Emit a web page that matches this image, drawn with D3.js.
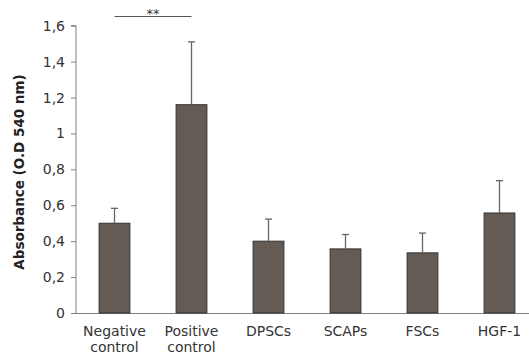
<!DOCTYPE html>
<html>
<head>
<meta charset="utf-8">
<script src="https://cdn.jsdelivr.net/npm/d3@7"></script>
<style>
  html, body { margin: 0; padding: 0; background: #fff; }
  svg { display: block; }
</style>
</head>
<body>
<svg id="chart" width="529" height="356"></svg>
<script>
// Absorbance per group (mean and upper error)
const categories = [["Negative", "control"], ["Positive", "control"], ["DPSCs"], ["SCAPs"], ["FSCs"], ["HGF-1"]];
const means = [0.50, 1.16, 0.40, 0.357, 0.335, 0.557];
const errors = [0.083, 0.35, 0.123, 0.08, 0.11, 0.18];
const yTicks = [0, 0.2, 0.4, 0.6, 0.8, 1, 1.2, 1.4, 1.6];
const yTitle = "Absorbance (O.D 540 nm)";
const significance = { from: 0, to: 1, label: "**" };

const svg = d3.select("#chart");
const font = "'DejaVu Sans', Verdana, sans-serif";
const mLeft = 76, mTop = 25.7, mBottom = 313, mRight = 538;

const x = d3.scaleBand()
  .domain(d3.range(categories.length))
  .range([mLeft, mRight])
  .paddingInner(0.6)
  .paddingOuter(0.3);

const y = d3.scaleLinear().domain([0, 1.6]).range([mBottom, mTop]);

// y axis
const yAxis = svg.append("g")
  .attr("transform", `translate(${mLeft},0)`)
  .call(d3.axisLeft(y).tickValues(yTicks).tickSize(5).tickPadding(6)
    .tickFormat(d => String(d).replace(".", ",")));
yAxis.select(".domain").attr("stroke", "#808080").attr("d", `M-5,${mTop}H0V${mBottom}`);
yAxis.selectAll(".tick line").attr("stroke", "#808080");
yAxis.selectAll(".tick text").attr("font-family", font).attr("font-size", 14).attr("fill", "#333");

// x axis baseline
svg.append("line")
  .attr("x1", mLeft - 5).attr("x2", 529)
  .attr("y1", y(0) + 0.5).attr("y2", y(0) + 0.5)
  .attr("stroke", "#808080").attr("stroke-width", 1.2);

// bars
const bw = x.bandwidth();
svg.append("g").selectAll("rect")
  .data(means)
  .join("rect")
  .attr("x", (d, i) => x(i))
  .attr("y", d => y(d))
  .attr("width", bw)
  .attr("height", d => y(0) - y(d))
  .attr("fill", "#645b55")
  .attr("stroke", "#333")
  .attr("stroke-width", 1);

// upper error bars
const eb = svg.append("g").attr("stroke", "#666").attr("stroke-width", 1.3);
means.forEach((m, i) => {
  const cx = x(i) + bw / 2;
  eb.append("line").attr("x1", cx).attr("x2", cx).attr("y1", y(m)).attr("y2", y(m + errors[i]));
  eb.append("line").attr("x1", cx - 3.5).attr("x2", cx + 3.5)
    .attr("y1", y(m + errors[i])).attr("y2", y(m + errors[i]));
});

// category labels
const lab = svg.append("g").attr("font-family", font).attr("font-size", 14)
  .attr("fill", "#333").attr("text-anchor", "middle");
categories.forEach((c, i) => {
  const t = lab.append("text").attr("x", x(i) + bw / 2).attr("y", 336);
  c.forEach((line, k) => {
    t.append("tspan").attr("x", x(i) + bw / 2).attr("dy", k === 0 ? 0 : 16).text(line);
  });
});

// y title
svg.append("text")
  .attr("transform", `translate(24,172) rotate(-90)`)
  .attr("text-anchor", "middle")
  .attr("font-family", font).attr("font-size", 13.5).attr("font-weight", "bold")
  .attr("fill", "#222")
  .text(yTitle);

// significance bracket
const sx1 = x(significance.from) + bw / 2, sx2 = x(significance.to) + bw / 2;
svg.append("line").attr("x1", sx1).attr("x2", sx2).attr("y1", 16.5).attr("y2", 16.5)
  .attr("stroke", "#555").attr("stroke-width", 1.2);
svg.append("text").attr("x", (sx1 + sx2) / 2).attr("y", 18)
  .attr("text-anchor", "middle").attr("font-family", font).attr("font-size", 13)
  .attr("fill", "#333").text(significance.label);
</script>
</body>
</html>
